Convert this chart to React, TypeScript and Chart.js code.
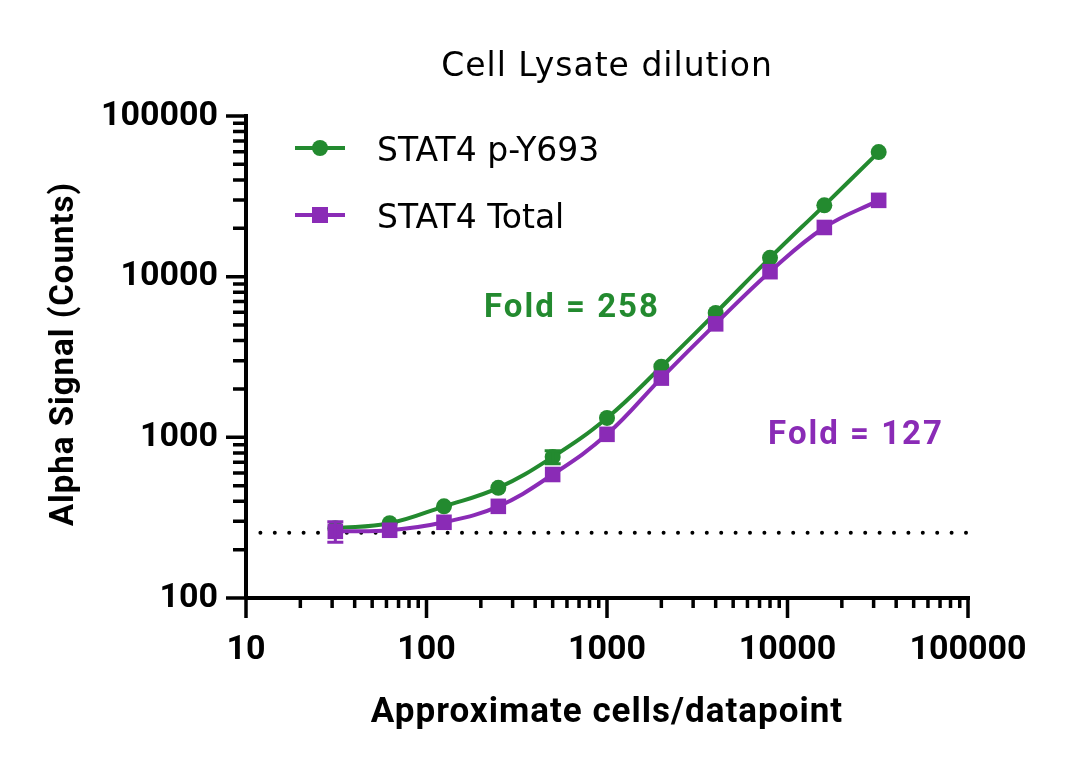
import { useEffect, useRef } from "react";
import { Chart, registerables } from "chart.js";
import type { Plugin } from "chart.js";
Chart.register(...registerables);

// approximate cells per datapoint (2-fold dilution series)
const cells = [31.25, 62.5, 125, 250, 500, 1000, 2000, 4000, 8000, 16000, 32000];
const phosphoSignal = [272, 292, 372, 485, 755, 1320, 2750, 5950, 13100, 27800, 59600];
const phosphoError = [0, 0, 0, 0, 70, 0, 0, 0, 0, 0, 0];
const totalSignal = [260, 264, 296, 372, 587, 1044, 2337, 5085, 10740, 20240, 29850];
const totalError = [38, 0, 0, 0, 0, 0, 0, 0, 0, 0, 0];
const backgroundLevel = 255;
const xTicks = [10, 100, 1000, 10000, 100000];
const yTicks = [100, 1000, 10000, 100000];

const chartTitle = "Cell Lysate dilution";
const xTitle = "Approximate cells/datapoint";
const yTitle = "Alpha Signal (Counts)";

const GREEN = "#238a2f";
const PURPLE = "#8a2bb6";
const BOLD = "Roboto, 'Noto Sans', sans-serif";
const REGULAR = "'DejaVu Sans', 'Noto Sans', sans-serif";

// text anchored in data coordinates (centre x, baseline y)
const annotations = [
  { text: "Fold = 258", x: 640, y: 5580, color: GREEN },
  { text: "Fold = 127", x: 23970, y: 910, color: PURPLE },
];

const errorSets = [phosphoError, totalError];
const signalSets = [phosphoSignal, totalSignal];

const logMarks = (min: number, max: number) => {
  const out: { v: number; major: boolean }[] = [];
  for (let d = min; d <= max; d *= 10) {
    out.push({ v: d, major: true });
    if (d < max) for (let k = 2; k <= 9; k++) out.push({ v: k * d, major: false });
  }
  return out;
};

const setSpacing = (ctx: CanvasRenderingContext2D, px: number) => {
  (ctx as any).letterSpacing = `${px}px`;
};

const framePlugin: Plugin = {
  id: "frame",
  beforeDatasetsDraw(chart) {
    const { ctx, chartArea, scales } = chart;
    const xs = scales.x;
    const ys = scales.y;
    ctx.save();
    ctx.strokeStyle = "#000";
    ctx.lineWidth = 4;
    ctx.beginPath();
    ctx.moveTo(chartArea.left, chartArea.top - 2);
    ctx.lineTo(chartArea.left, chartArea.bottom);
    ctx.moveTo(chartArea.left, chartArea.bottom);
    ctx.lineTo(chartArea.right + 2, chartArea.bottom);
    ctx.stroke();
    ctx.lineWidth = 3.5;
    ctx.beginPath();
    logMarks(10, 100000).forEach(({ v, major }) => {
      const px = xs.getPixelForValue(v);
      ctx.moveTo(px, chartArea.bottom);
      ctx.lineTo(px, chartArea.bottom + (major ? 20 : 10));
    });
    logMarks(100, 100000).forEach(({ v, major }) => {
      const py = ys.getPixelForValue(v);
      ctx.moveTo(chartArea.left, py);
      ctx.lineTo(chartArea.left - (major ? 20 : 13), py);
    });
    ctx.stroke();
    ctx.restore();
  },
};

const extrasPlugin: Plugin = {
  id: "extras",
  afterDatasetsDraw(chart) {
    const { ctx, chartArea, scales } = chart;
    const xs = scales.x;
    const ys = scales.y;
    ctx.save();
    // error bars
    errorSets.forEach((errs, di) => {
      const ds = chart.data.datasets[di] as any;
      ctx.strokeStyle = ds.borderColor;
      ctx.lineWidth = 3;
      errs.forEach((e, i) => {
        if (!e) return;
        const px = xs.getPixelForValue(cells[i]);
        const top = ys.getPixelForValue(signalSets[di][i] + e);
        const bot = ys.getPixelForValue(signalSets[di][i] - e);
        ctx.beginPath();
        ctx.moveTo(px, top);
        ctx.lineTo(px, bot);
        ctx.moveTo(px - 8, top);
        ctx.lineTo(px + 8, top);
        ctx.moveTo(px - 8, bot);
        ctx.lineTo(px + 8, bot);
        ctx.stroke();
      });
    });
    // legend
    [0, 1].forEach((di, row) => {
      const ds = chart.data.datasets[di] as any;
      const y = chartArea.top + 32 + row * 67;
      const x0 = chartArea.left + 49;
      ctx.strokeStyle = ds.borderColor;
      ctx.fillStyle = ds.backgroundColor;
      ctx.lineWidth = 4;
      ctx.beginPath();
      ctx.moveTo(x0, y);
      ctx.lineTo(x0 + 50, y);
      ctx.stroke();
      if (ds.pointStyle === "rect") {
        ctx.fillRect(x0 + 25 - 8, y - 8, 16, 16);
      } else {
        ctx.beginPath();
        ctx.arc(x0 + 25, y, 8, 0, Math.PI * 2);
        ctx.fill();
      }
      ctx.fillStyle = "#000";
      ctx.font = `400 33px ${REGULAR}`;
      setSpacing(ctx, 0);
      ctx.textAlign = "left";
      ctx.textBaseline = "alphabetic";
      ctx.fillText(ds.label, x0 + 82, y + 13);
    });
    // fold annotations
    annotations.forEach((a) => {
      ctx.fillStyle = a.color;
      ctx.font = `700 33px ${BOLD}`;
      setSpacing(ctx, 2);
      ctx.textAlign = "center";
      ctx.textBaseline = "alphabetic";
      ctx.fillText(a.text, xs.getPixelForValue(a.x), ys.getPixelForValue(a.y));
    });
    ctx.restore();
  },
  afterDraw(chart) {
    const { ctx, chartArea } = chart;
    const cx = (chartArea.left + chartArea.right) / 2;
    const cy = (chartArea.top + chartArea.bottom) / 2;
    ctx.save();
    ctx.fillStyle = "#000";
    ctx.textAlign = "center";
    ctx.textBaseline = "alphabetic";
    // chart title
    ctx.font = `400 33px ${REGULAR}`;
    setSpacing(ctx, 1);
    ctx.fillText(chartTitle, cx, 76);
    // x axis title
    ctx.font = `700 35px ${BOLD}`;
    setSpacing(ctx, 1);
    ctx.fillText(xTitle, cx, 722);
    // y axis title
    ctx.font = `700 33px ${BOLD}`;
    ctx.translate(73, cy - 3);
    ctx.rotate(-Math.PI / 2);
    ctx.fillText(yTitle, 0, 0);
    ctx.restore();
  },
};

const App = () => {
  const canvasRef = useRef<HTMLCanvasElement>(null);
  const chartRef = useRef<Chart | null>(null);

  useEffect(() => {
    if (!canvasRef.current) return;
    if (chartRef.current) chartRef.current.destroy();

    chartRef.current = new Chart(canvasRef.current, {
      type: "line",
      data: {
        datasets: [
          {
            label: "STAT4 p-Y693",
            data: cells.map((x, i) => ({ x, y: phosphoSignal[i] })),
            borderColor: GREEN,
            backgroundColor: GREEN,
            borderWidth: 4,
            pointStyle: "circle",
            pointRadius: 8,
            pointBorderWidth: 0,
            tension: 0.4,
            order: 1,
          },
          {
            label: "STAT4 Total",
            data: cells.map((x, i) => ({ x, y: totalSignal[i] })),
            borderColor: PURPLE,
            backgroundColor: PURPLE,
            borderWidth: 4,
            pointStyle: "rect",
            pointRadius: 11,
            pointBorderWidth: 0,
            tension: 0.4,
            order: 0,
          },
          {
            label: "Background",
            data: [
              { x: 10, y: backgroundLevel },
              { x: 100000, y: backgroundLevel },
            ],
            borderColor: "#000",
            borderWidth: 4,
            borderDash: [0, 14.4],
            borderCapStyle: "round",
            pointRadius: 0,
            order: 2,
          },
        ],
      },
      options: {
        responsive: true,
        maintainAspectRatio: false,
        animation: false,
        layout: { padding: { left: 0, right: 112, top: 116, bottom: 0 } },
        plugins: {
          legend: { display: false },
          tooltip: { enabled: false },
          title: { display: false },
        },
        scales: {
          x: {
            type: "logarithmic",
            position: "bottom",
            min: 10,
            max: 100000,
            grid: { display: false, drawTicks: false },
            border: { display: false },
            afterBuildTicks: (s) => {
              s.ticks = xTicks.map((value) => ({ value }));
            },
            afterFit: (s) => {
              s.height = 170;
            },
            ticks: {
              color: "#000",
              font: { family: BOLD, size: 34, weight: "bold" },
              padding: 32,
              maxRotation: 0,
              autoSkip: false,
              callback: (v) => String(v),
            },
          },
          y: {
            type: "logarithmic",
            min: 100,
            max: 100000,
            grid: { display: false, drawTicks: false },
            border: { display: false },
            afterBuildTicks: (s) => {
              s.ticks = yTicks.map((value) => ({ value }));
            },
            afterFit: (s) => {
              s.width = 246;
            },
            ticks: {
              color: "#000",
              font: { family: BOLD, size: 34, weight: "bold" },
              padding: 28,
              autoSkip: false,
              callback: (v) => String(v),
            },
          },
        },
      },
      plugins: [framePlugin, extrasPlugin],
    });

    return () => {
      chartRef.current?.destroy();
    };
  }, []);

  return (
    <div style={{ position: "fixed", left: 0, top: 0, width: 1080, height: 768, background: "#fff" }}>
      <canvas ref={canvasRef} />
    </div>
  );
};

export default App;
